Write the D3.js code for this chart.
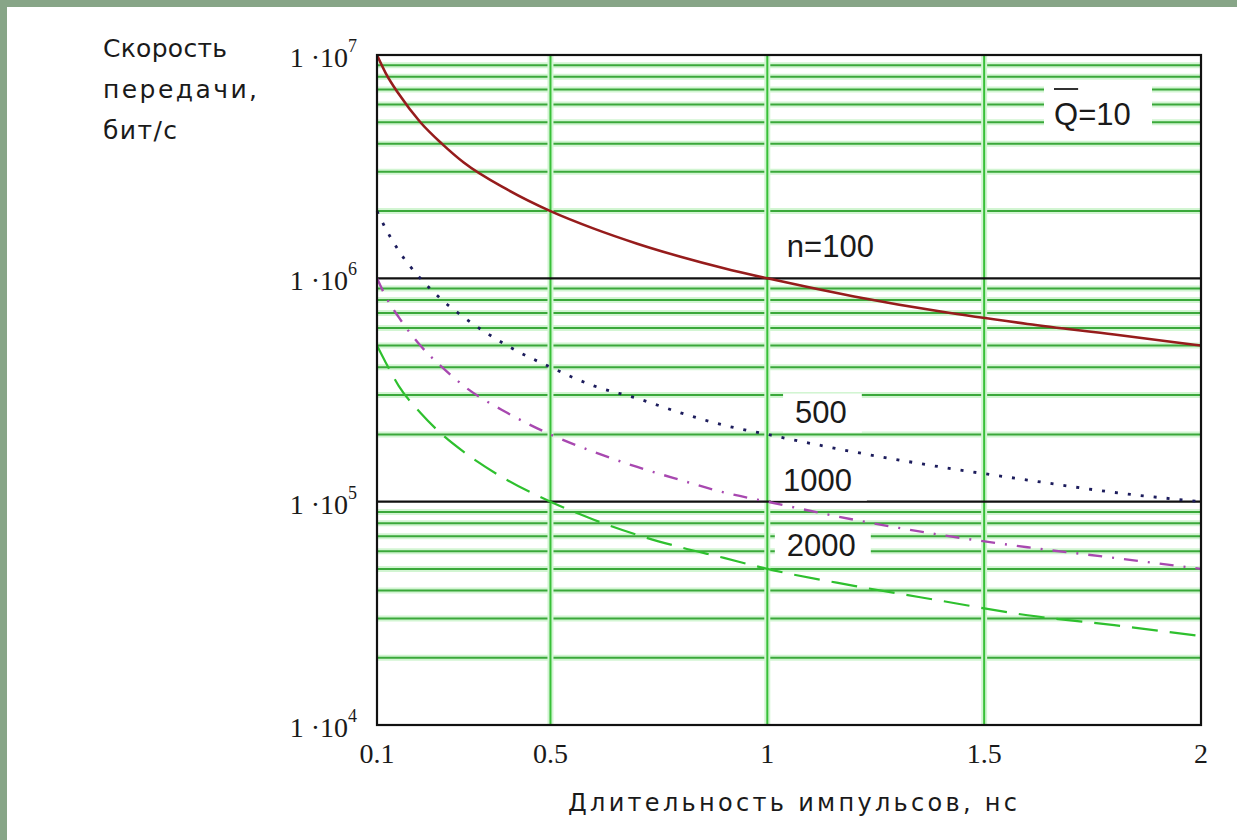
<!DOCTYPE html>
<html>
<head>
<meta charset="utf-8">
<script src="https://cdn.jsdelivr.net/npm/d3@7"></script>
<style>
  html, body { margin: 0; padding: 0; background: #87a587; }
  svg { display: block; }
</style>
</head>
<body>
<div id="chart"></div>
<script>
// pulse duration, ns
const tau = [0.1, 0.12, 0.15, 0.2, 0.25, 0.3, 0.4, 0.5, 0.6, 0.7, 0.8, 0.9, 1.0, 1.2, 1.4, 1.6, 1.8, 2.0];

// transmission rate, bit/s
const rateN100 = [1e7, 8.3e6, 6.7e6, 5e6, 4e6, 3.3e6, 2.5e6, 2e6, 1.67e6, 1.43e6, 1.25e6, 1.11e6, 1e6, 8.3e5, 7.1e5, 6.25e5, 5.6e5, 5e5];
const rateN500 = [2e6, 1.67e6, 1.33e6, 1e6, 8e5, 6.7e5, 5e5, 4e5, 3.3e5, 2.9e5, 2.5e5, 2.2e5, 2e5, 1.67e5, 1.43e5, 1.25e5, 1.1e5, 1e5];
const rateN1000 = [1e6, 8.3e5, 6.7e5, 5e5, 4e5, 3.3e5, 2.5e5, 2e5, 1.67e5, 1.43e5, 1.25e5, 1.1e5, 1e5, 8.3e4, 7.1e4, 6.25e4, 5.6e4, 5e4];
const rateN2000 = [5e5, 4.2e5, 3.3e5, 2.5e5, 2e5, 1.67e5, 1.25e5, 1e5, 8.3e4, 7.1e4, 6.25e4, 5.6e4, 5e4, 4.2e4, 3.6e4, 3.1e4, 2.8e4, 2.5e4];

const seriesLabels = ["n=100", "500", "1000", "2000"];
const xTicks = [0.1, 0.5, 1, 1.5, 2];
const xTickLabels = ["0.1", "0.5", "1", "1.5", "2"];
const yTicks = [1e4, 1e5, 1e6, 1e7];
const yTickExponents = ["4", "5", "6", "7"];
const yTitleLines = ["Скорость", "передачи,", "бит/с"];
const xTitle = "Длительность импульсов, нс";

// label anchors in data units (tau, rate at baseline)
const labelTau = [1.045, 1.064, 1.036, 1.045];
const labelRate = [1.24e6, 2.26e5, 1.12e5, 5.73e4];

class RateChart {
  constructor(_parentElement) {
    this.parentElement = _parentElement;
    this.initVis();
  }

  initVis() {
    let vis = this;

    vis.width = 1237;
    vis.height = 840;
    vis.margin = { top: 55, right: 36, bottom: 115, left: 377 };

    vis.svg = d3
      .select("#" + vis.parentElement)
      .append("svg")
      .attr("width", vis.width)
      .attr("height", vis.height);

    vis.svg.append("rect")
      .attr("width", vis.width).attr("height", vis.height)
      .attr("fill", "#87a587");
    vis.svg.append("rect")
      .attr("x", 7).attr("y", 7)
      .attr("width", vis.width - 7).attr("height", vis.height - 7)
      .attr("fill", "#fff");

    vis.x = d3.scaleLinear()
      .domain([0.1, 2])
      .range([vis.margin.left, vis.width - vis.margin.right]);

    vis.y = d3.scaleLog()
      .domain([1e4, 1e7])
      .range([vis.height - vis.margin.bottom, vis.margin.top]);

    vis.series = [rateN100, rateN500, rateN1000, rateN2000].map((r, i) => ({
      name: seriesLabels[i],
      values: tau.map((t, j) => ({ t: t, r: r[j] })),
    }));

    vis.styles = [
      { color: "#961c1c", dash: null, width: 2.6 },
      { color: "#1c1c5c", dash: "3,10", width: 2.8 },
      { color: "#a848b0", dash: "14,10,2,10", width: 2.4 },
      { color: "#2ec02e", dash: "26,12", width: 2.2 },
    ];

    vis.updateVis();
  }

  updateVis() {
    let vis = this;
    let x0 = vis.x.range()[0], x1 = vis.x.range()[1];
    let y0 = vis.y.range()[0], y1 = vis.y.range()[1];

    // horizontal grid: minor log lines green, decades black
    let hLines = vis.y.ticks().filter((d) => d > 1e4 && d < 1e7);
    let minor = hLines.filter((d) => Math.abs(Math.log10(d) % 1) > 1e-6);
    let major = hLines.filter((d) => Math.abs(Math.log10(d) % 1) < 1e-6);
    let vLines = xTicks.filter((d) => d > 0.1 && d < 2);

    let grid = vis.svg.append("g").attr("class", "grid");
    grid.selectAll(".halo-h").data(minor).join("line")
      .attr("x1", x0).attr("x2", x1)
      .attr("y1", (d) => vis.y(d)).attr("y2", (d) => vis.y(d))
      .attr("stroke", "#d2f5d2").attr("stroke-width", 6);
    grid.selectAll(".minor").data(minor).join("line")
      .attr("x1", x0).attr("x2", x1)
      .attr("y1", (d) => vis.y(d)).attr("y2", (d) => vis.y(d))
      .attr("stroke", "#3aa83a").attr("stroke-width", 2);
    grid.selectAll(".halo-v").data(vLines).join("line")
      .attr("x1", (d) => vis.x(d)).attr("x2", (d) => vis.x(d))
      .attr("y1", y0).attr("y2", y1)
      .attr("stroke", "#d2f5d2").attr("stroke-width", 6);
    grid.selectAll(".vline").data(vLines).join("line")
      .attr("x1", (d) => vis.x(d)).attr("x2", (d) => vis.x(d))
      .attr("y1", y0).attr("y2", y1)
      .attr("stroke", "#38c038").attr("stroke-width", 2);
    grid.selectAll(".major").data(major).join("line")
      .attr("x1", x0).attr("x2", x1)
      .attr("y1", (d) => vis.y(d)).attr("y2", (d) => vis.y(d))
      .attr("stroke", "#111").attr("stroke-width", 2.2);

    // curves
    let line = d3.line()
      .x((d) => vis.x(d.t))
      .y((d) => vis.y(d.r))
      .curve(d3.curveMonotoneX);

    vis.svg.append("g").attr("class", "curves")
      .selectAll("path").data(vis.series).join("path")
      .attr("d", (d) => line(d.values))
      .attr("fill", "none")
      .attr("stroke", (d, i) => vis.styles[i].color)
      .attr("stroke-width", (d, i) => vis.styles[i].width)
      .attr("stroke-dasharray", (d, i) => vis.styles[i].dash);

    // frame
    vis.svg.append("rect")
      .attr("x", x0).attr("y", y1)
      .attr("width", x1 - x0).attr("height", y0 - y1)
      .attr("fill", "none").attr("stroke", "#111").attr("stroke-width", 2.2);

    // curve labels with white boxes
    let labels = vis.svg.append("g").attr("class", "labels");
    seriesLabels.forEach((s, i) => {
      let g = labels.append("g");
      let bx = vis.x(labelTau[i]), by = vis.y(labelRate[i]);
      let rect = g.append("rect").attr("fill", "#fff");
      let t = g.append("text")
        .attr("x", bx).attr("y", by)
        .attr("font-family", "Liberation Sans, Arial, sans-serif")
        .attr("font-size", 31)
        .attr("fill", "#1a1a1a")
        .text(s);
      let w = t.node().getComputedTextLength();
      rect.attr("x", bx - 12).attr("y", by - 29)
        .attr("width", w + 27).attr("height", 39);
    });

    // Q=10 label
    let qx = 1054, qy = 125;
    let qg = vis.svg.append("g");
    qg.append("rect").attr("x", qx - 10).attr("y", qy - 44)
      .attr("width", 108).attr("height", 56).attr("fill", "#fff");
    let qt = qg.append("text")
      .attr("x", qx).attr("y", qy)
      .attr("font-family", "Liberation Sans, Arial, sans-serif")
      .attr("font-size", 31)
      .attr("fill", "#1a1a1a");
    let qspan = qt.append("tspan").text("Q");
    qt.append("tspan").text("=10");
    let qw = qspan.node().getComputedTextLength();
    qg.append("line")
      .attr("x1", qx).attr("x2", qx + qw)
      .attr("y1", qy - 36).attr("y2", qy - 36)
      .attr("stroke", "#1a1a1a").attr("stroke-width", 1.8);

    // y tick labels
    let yl = vis.svg.append("g").attr("class", "y-labels")
      .selectAll("text").data(yTicks).join("text")
      .attr("x", x0 - 20)
      .attr("y", (d) => vis.y(d) + 12)
      .attr("text-anchor", "end")
      .attr("font-family", "Liberation Serif, Times New Roman, serif")
      .attr("font-size", 28)
      .attr("fill", "#1a1a1a");
    yl.append("tspan").text("1 ·10");
    yl.append("tspan")
      .attr("dy", -15)
      .attr("font-size", 18)
      .text((d, i) => yTickExponents[i]);

    // x tick labels
    vis.svg.append("g").attr("class", "x-labels")
      .selectAll("text").data(xTicks).join("text")
      .attr("x", (d) => vis.x(d))
      .attr("y", y0 + 38)
      .attr("text-anchor", "middle")
      .attr("font-family", "Liberation Serif, Times New Roman, serif")
      .attr("font-size", 28)
      .attr("fill", "#1a1a1a")
      .text((d, i) => xTickLabels[i]);

    // axis titles
    vis.svg.append("text")
      .attr("x", 568).attr("y", 811)
      .attr("textLength", 449).attr("lengthAdjust", "spacing")
      .attr("font-family", "DejaVu Sans, Verdana, sans-serif")
      .attr("font-size", 24)
      .attr("fill", "#1a1a1a")
      .text(xTitle);

    let titleWidths = [124, 154, 74];
    vis.svg.append("g").attr("class", "y-title")
      .selectAll("text").data(yTitleLines).join("text")
      .attr("x", 103)
      .attr("y", (d, i) => 57 + i * 41)
      .attr("textLength", (d, i) => titleWidths[i])
      .attr("lengthAdjust", "spacing")
      .attr("font-family", "DejaVu Sans, Verdana, sans-serif")
      .attr("font-size", 25)
      .attr("fill", "#1a1a1a")
      .text((d) => d);
  }
}

new RateChart("chart");
</script>
</body>
</html>
